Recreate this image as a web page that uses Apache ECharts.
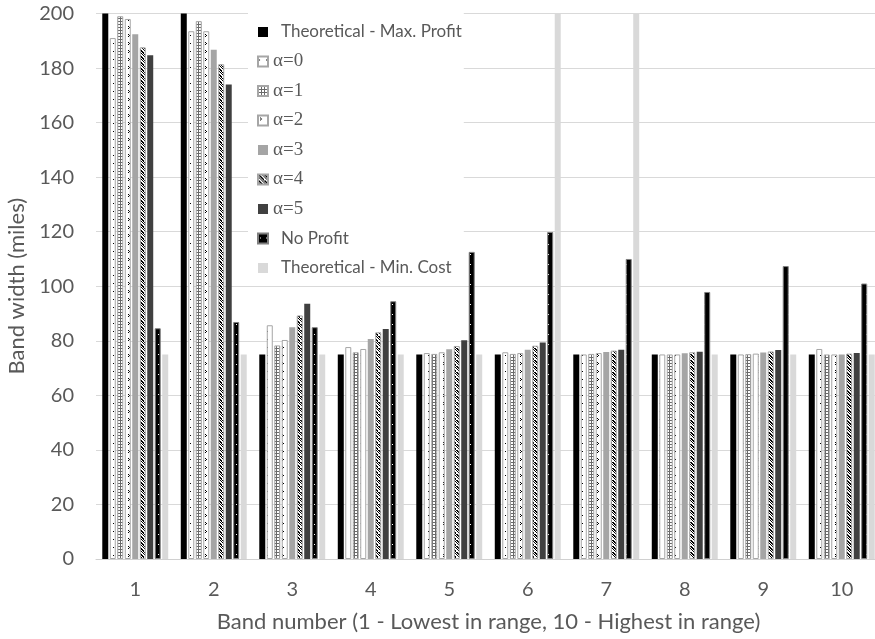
<!DOCTYPE html>
<html>
<head>
<meta charset="utf-8">
<script src="https://cdn.jsdelivr.net/npm/echarts@6/dist/echarts.min.js"></script>
<style>html,body{margin:0;padding:0;background:#fff;}#c{width:875px;height:639px;}</style>
</head>
<body>
<div id="c"></div>
<script>
const categories = ['1','2','3','4','5','6','7','8','9','10'];
const yTicks = [0,20,40,60,80,100,120,140,160,180,200];
const seriesNames = ['Theoretical - Max. Profit','α=0','α=1','α=2','α=3','α=4','α=5','No Profit','Theoretical - Min. Cost'];
const maxProfit = [250, 250, 75, 75, 75, 75, 75, 75, 75, 75];
const alpha0 = [191, 193.5, 85.7, 77.7, 75.5, 75.8, 75, 75, 75, 77];
const alpha1 = [199, 197.2, 78.3, 75.8, 75.2, 75.2, 75.2, 75, 75.1, 75];
const alpha2 = [198, 193.5, 80.3, 77, 75.8, 75.5, 75.5, 75, 75.3, 75];
const alpha3 = [192.4, 186.7, 85, 80.7, 76.9, 76.7, 75.9, 75.4, 75.7, 75];
const alpha4 = [187.6, 181.4, 89.3, 83.1, 78.1, 78.2, 76.4, 75.8, 76.1, 75.3];
const alpha5 = [184.7, 174, 93.6, 84.3, 80.2, 79.4, 76.7, 76, 76.6, 75.5];
const noProfit = [84.6, 86.9, 85, 94.5, 112.6, 119.9, 110, 97.9, 107.4, 101];
const minCost = [75, 75, 75, 75, 75, 250, 250, 75, 75, 75];

function pat(w, h, draw) {
  const c = document.createElement('canvas');
  c.width = w; c.height = h;
  const g = c.getContext('2d');
  draw(g);
  return {image: c, repeat: 'repeat'};
}
const pDots = pat(7, 8, g => { g.fillStyle = '#fff'; g.fillRect(0,0,7,8); g.fillStyle = '#000'; g.fillRect(1,3,1,1); });
const pGrid = pat(3, 3, g => { g.fillStyle = '#fff'; g.fillRect(0,0,3,3); g.fillStyle = '#6a6a6a'; g.fillRect(0,0,3,1); g.fillRect(0,0,1,3); });
const pDivot = pat(7, 8, g => { g.fillStyle = '#fff'; g.fillRect(0,0,7,8); g.fillStyle = '#000'; g.fillRect(2,2,1,1); g.fillRect(3,3,1,1); g.fillRect(2,4,1,1); });
const pHatch = pat(6, 6, g => { g.fillStyle = '#fff'; g.fillRect(0,0,6,6); g.fillStyle = '#000';
  for (let i = 0; i < 6; i++) { g.fillRect(i, i, 2, 1); g.fillRect((i+4)%6, i, 1, 1); } });
const pNoProfit = pat(6, 10, g => { g.fillStyle = '#000'; g.fillRect(0,0,6,10); g.fillStyle = '#fff'; g.fillRect(2,4,1,1); });

const styles = [
  {color: '#000000'},
  {color: pDots, borderColor: '#a6a6a6', borderWidth: 1},
  {color: pGrid, borderColor: '#a6a6a6', borderWidth: 1},
  {color: pDivot, borderColor: '#a6a6a6', borderWidth: 1},
  {color: '#a5a5a5'},
  {color: pHatch, borderColor: '#a6a6a6', borderWidth: 1},
  {color: '#404040'},
  {color: pNoProfit, borderColor: '#7f7f7f', borderWidth: 1},
  {color: '#d9d9d9'}
];
const dataSets = [maxProfit, alpha0, alpha1, alpha2, alpha3, alpha4, alpha5, noProfit, minCost];

const TXT = '#595959';
const chart = echarts.init(document.getElementById('c'), null, {renderer: 'canvas'});
chart.setOption({
  animation: false,
  backgroundColor: '#fff',
  grid: {left: 96, right: -6, top: 13.5, bottom: 80, containLabel: false, outerBoundsMode: 'none'},
  legend: {
    orient: 'vertical',
    left: 248, top: 12,
    padding: [10, 2, 8, 9],
    backgroundColor: '#fff',
    icon: 'rect',
    itemWidth: 10, itemHeight: 10,
    itemGap: 9.5,
    data: seriesNames,
    formatter: n => n.startsWith('α') ? '{g|' + n + '}' : '{s|' + n + '}',
    textStyle: {
      lineHeight: 20,
      rich: {
        s: {fontFamily: 'Lato', fontSize: 17, color: TXT, padding: [0,0,0,8], lineHeight: 20, height: 20},
        g: {fontFamily: 'Liberation Serif', fontSize: 19, color: TXT, lineHeight: 20, height: 20}
      }
    }
  },
  xAxis: {
    type: 'category',
    data: categories,
    axisTick: {show: false},
    axisLine: {lineStyle: {color: '#d0d0d0', width: 1}},
    axisLabel: {fontFamily: 'Lato', fontSize: 20, color: TXT, margin: 21},
    name: 'Band number (1 - Lowest in range, 10 - Highest in range)',
    nameLocation: 'middle',
    nameGap: 52,
    nameTextStyle: {fontFamily: 'Lato', fontSize: 22, color: TXT}
  },
  yAxis: {
    type: 'value',
    min: yTicks[0], max: yTicks[yTicks.length - 1], interval: yTicks[1] - yTicks[0],
    axisLine: {show: false},
    axisTick: {show: false},
    splitLine: {lineStyle: {color: '#d9d9d9', width: 1}},
    axisLabel: {fontFamily: 'Lato', fontSize: 20, color: TXT, margin: 22},
    name: 'Band width (miles)',
    nameLocation: 'middle',
    nameGap: 63,
    nameTextStyle: {fontFamily: 'Lato', fontSize: 22, color: TXT}
  },
  series: seriesNames.map((n, i) => ({
    name: n,
    type: 'bar',
    data: dataSets[i],
    barGap: '25%',
    barCategoryGap: '16%',
    clip: true,
    itemStyle: styles[i],
    emphasis: {disabled: true}
  }))
});
</script>
</body>
</html>
